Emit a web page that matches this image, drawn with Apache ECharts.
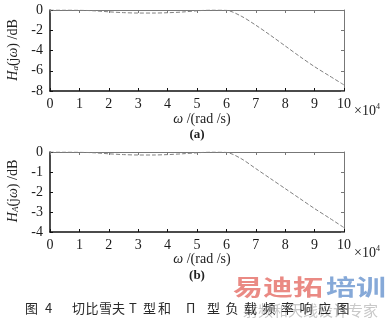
<!DOCTYPE html>
<html>
<head>
<meta charset="utf-8">
<script src="https://cdn.jsdelivr.net/npm/echarts@6/dist/echarts.min.js"></script>
<style>
html,body{margin:0;padding:0;background:#fff;}
#chart{width:390px;height:326px;}
</style>
</head>
<body>
<div id="chart"></div>
<script>
// Data
const omega = [0, 0.5, 1, 1.5, 2, 2.5, 3, 3.5, 4, 4.5, 5, 5.5, 6, 6.5, 7, 7.5, 8, 8.5, 9, 9.5, 10];
const respT = [0, 0, -0.02, -0.08, -0.18, -0.26, -0.3, -0.3, -0.27, -0.2, -0.08, 0, -0.03, -0.6, -1.5, -2.5, -3.55, -4.6, -5.6, -6.5, -7.4];
const respPi = [0, 0, -0.01, -0.04, -0.09, -0.13, -0.15, -0.15, -0.13, -0.09, -0.04, 0, -0.02, -0.33, -0.83, -1.33, -1.83, -2.33, -2.83, -3.3, -3.78];
const xTicks = [0, 1, 2, 3, 4, 5, 6, 7, 8, 9, 10];
const yTicksA = [0, -2, -4, -6, -8];
const yTicksB = [0, -1, -2, -3, -4];
const captionChars = ['图', '4', '切', '比', '雪', '夫', 'T', '型', '和', 'Π', '型', '负', '载', '频', '率', '响', '应', '图'];

const serif = 'Liberation Serif';
const cjk = 'Noto Sans CJK SC';

function pairs(xs, ys) { return xs.map((x, i) => [x, ys[i]]); }

function xAxes(g) {
  return [
    { gridIndex: g, type: 'value', min: xTicks[0], max: xTicks[xTicks.length - 1], interval: 1,
      axisLine: { show: true, onZero: false, lineStyle: { color: '#111', width: 1.5 } },
      axisTick: { show: true, inside: true, length: 3, lineStyle: { color: '#111' } },
      axisLabel: { fontFamily: serif, fontSize: 14, color: '#1a1a1a', margin: 6 },
      splitLine: { show: false } },
    { gridIndex: g, type: 'value', position: 'top', min: xTicks[0], max: xTicks[xTicks.length - 1], interval: 1,
      axisLine: { show: true, onZero: false, lineStyle: { color: '#777', width: 1 } },
      axisTick: { show: true, inside: true, length: 3, lineStyle: { color: '#777' } },
      axisLabel: { show: false }, splitLine: { show: false } }
  ];
}
function yAxes(g, ticks) {
  const mn = Math.min(...ticks), mx = Math.max(...ticks);
  const iv = Math.abs(ticks[1] - ticks[0]);
  return [
    { gridIndex: g, type: 'value', min: mn, max: mx, interval: iv,
      axisLine: { show: true, onZero: false, lineStyle: { color: '#111', width: 1.5 } },
      axisTick: { show: true, inside: true, length: 3, lineStyle: { color: '#111' } },
      axisLabel: { fontFamily: serif, fontSize: 14, color: '#1a1a1a', margin: 7 },
      splitLine: { show: false } },
    { gridIndex: g, type: 'value', position: 'right', min: mn, max: mx, interval: iv,
      axisLine: { show: true, onZero: false, lineStyle: { color: '#777', width: 1 } },
      axisTick: { show: true, inside: true, length: 3, lineStyle: { color: '#777' } },
      axisLabel: { show: false }, splitLine: { show: false } }
  ];
}

const lineStyle = { color: '#808080', width: 1, type: [4, 2] };

function richY(sub) {
  return {
    text: '{i|H}{s|' + sub + '}{n|(j}{i|ω}{n|) /dB}',
    align: 'center', verticalAlign: 'middle', fill: '#222',
    rich: {
      i: { fontFamily: serif, fontStyle: 'italic', fontSize: 14, fill: '#222' },
      s: { fontFamily: serif, fontStyle: 'italic', fontSize: 9, fill: '#222', verticalAlign: 'bottom', padding: [6, 0, 0, 0] },
      n: { fontFamily: serif, fontSize: 14, fill: '#222' }
    }
  };
}
function richX() {
  return {
    text: '{i|ω}{n| /(rad /s)}', align: 'center', verticalAlign: 'middle',
    rich: { i: { fontFamily: serif, fontStyle: 'italic', fontSize: 14, fill: '#222' }, n: { fontFamily: serif, fontSize: 14, fill: '#222' } }
  };
}
function richExp() {
  return {
    text: '{n|×10}{s|4}', align: 'left', verticalAlign: 'middle',
    rich: { n: { fontFamily: serif, fontSize: 14, fill: '#222' }, s: { fontFamily: serif, fontSize: 8, fill: '#222', padding: [0, 0, 9, 0] } }
  };
}
function cap(x, t) {
  return { type: 'text', x: x, y: 308, style: { text: t, font: '13px "' + cjk + '"', fill: '#2a2a2a', align: 'left', verticalAlign: 'middle' } };
}

const graphics = [
  { type: 'text', x: 13, y: 50, rotation: Math.PI / 2, style: richY('a') },
  { type: 'text', x: 13, y: 191, rotation: Math.PI / 2, style: richY('A') },
  { type: 'text', x: 202, y: 119, style: richX() },
  { type: 'text', x: 202, y: 259, style: richX() },
  { type: 'text', x: 197, y: 135, style: { text: '(a)', font: 'bold 13px ' + serif, fill: '#222', align: 'center', verticalAlign: 'middle' } },
  { type: 'text', x: 197, y: 276, style: { text: '(b)', font: 'bold 13px ' + serif, fill: '#222', align: 'center', verticalAlign: 'middle' } },
  { type: 'text', x: 354, y: 111, style: richExp() },
  { type: 'text', x: 354, y: 253, style: richExp() },
  // watermark
  { type: 'text', x: 233, y: 287, scaleY: 0.72, style: { text: '易迪拓', font: 'bold 30px "' + cjk + '"', fill: '#ea8a84', align: 'left', verticalAlign: 'middle' } },
  { type: 'text', x: 326, y: 287, scaleY: 0.72, style: { text: '培训', font: 'bold 30px "' + cjk + '"', fill: '#86a9d8', align: 'left', verticalAlign: 'middle' } },
  { type: 'text', x: 243, y: 310, style: { text: '射频和天线设计专家', font: '15px "' + cjk + '"', fill: '#c8c8c8', align: 'left', verticalAlign: 'middle' } }
];
// caption glyph positions (text layout only)
const capX = [25, 45, 72, 85.5, 99, 112, 129, 143, 158, 186];
captionChars.forEach((c, i) => graphics.push(cap(i < capX.length ? capX[i] : 207 + (i - capX.length) * 18.5, c)));

const chart = echarts.init(document.getElementById('chart'), null, { renderer: 'canvas' });
chart.setOption({
  backgroundColor: '#fff',
  animation: false,
  grid: [
    { left: 50, top: 10, width: 294, height: 81 },
    { left: 50, top: 152, width: 294, height: 80 }
  ],
  xAxis: xAxes(0).concat(xAxes(1)),
  yAxis: yAxes(0, yTicksA).concat(yAxes(1, yTicksB)),
  series: [
    { type: 'line', xAxisIndex: 0, yAxisIndex: 0, data: pairs(omega, respT), showSymbol: false, smooth: 0.3, lineStyle: lineStyle },
    { type: 'line', xAxisIndex: 2, yAxisIndex: 2, data: pairs(omega, respPi), showSymbol: false, smooth: 0.3, lineStyle: lineStyle }
  ],
  graphic: graphics
});
</script>
</body>
</html>
